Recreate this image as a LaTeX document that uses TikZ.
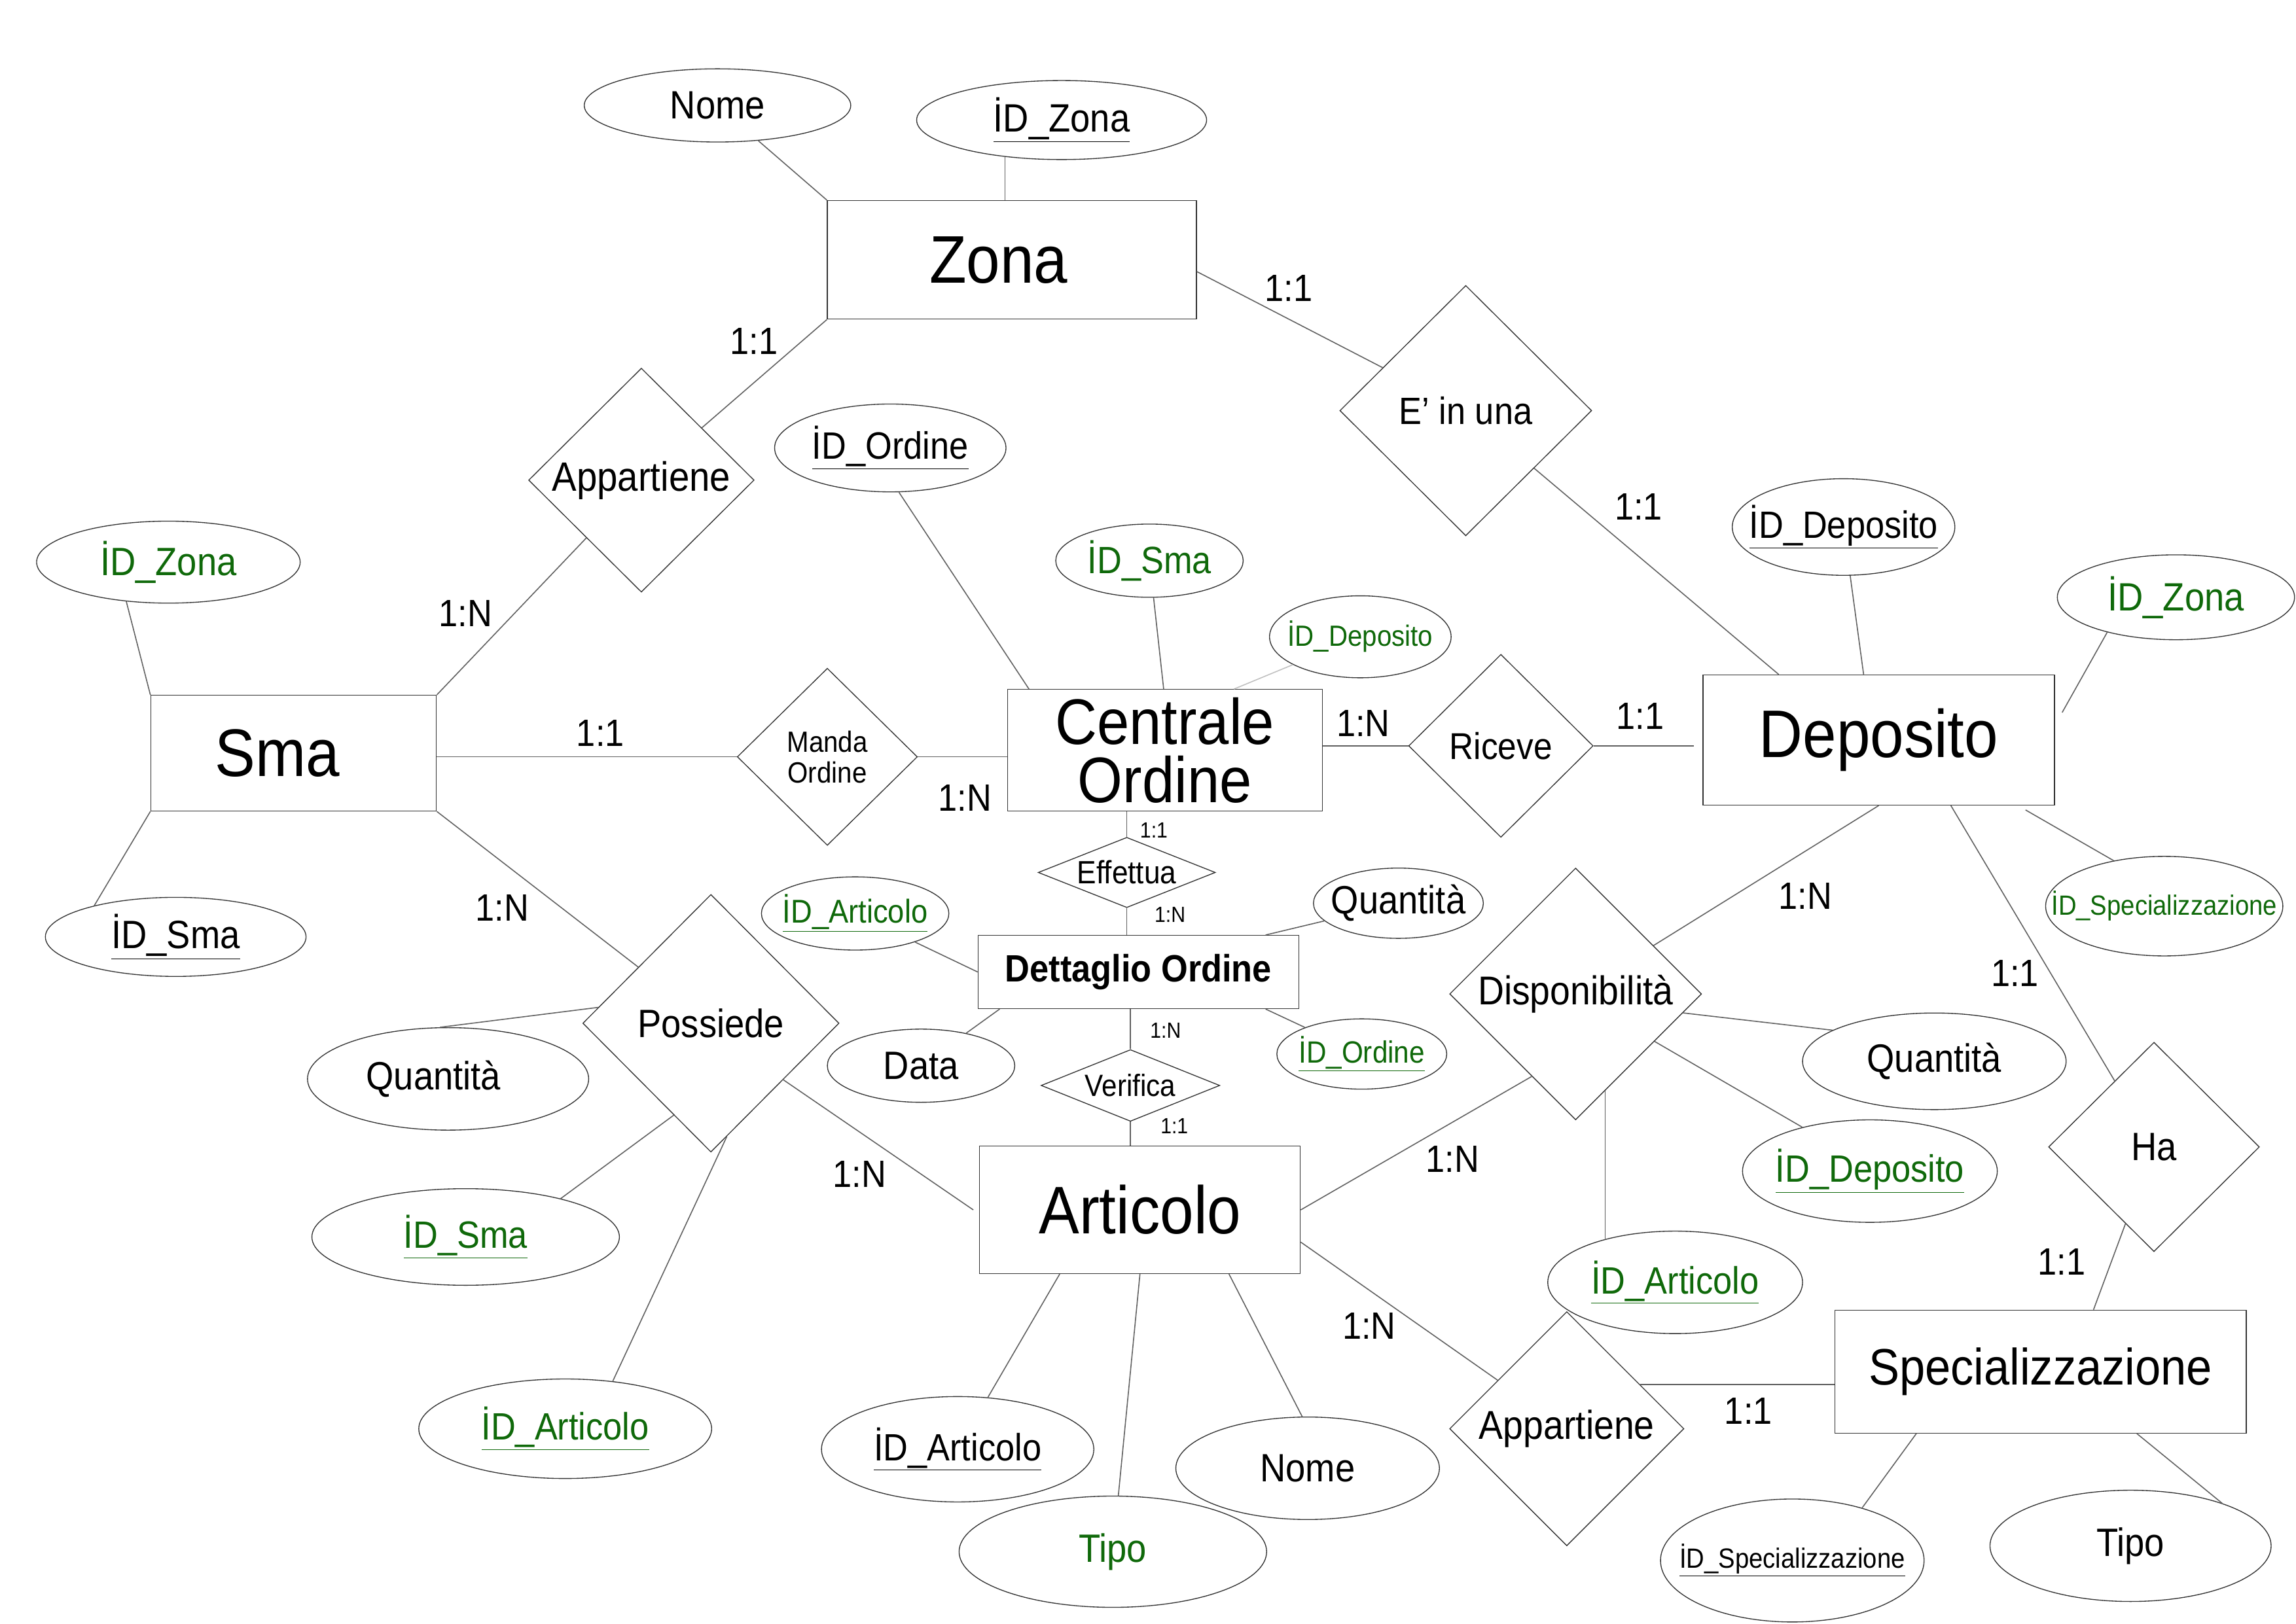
\documentclass[tikz,border=0pt]{standalone}
\usepackage{fontspec}
\setmainfont{Liberation Sans}[FakeStretch=0.9]
\usetikzlibrary{shapes.geometric}
\definecolor{ergreen}{RGB}{15,105,10}
\definecolor{lnc}{RGB}{95,95,95}
\newcommand{\zb}[1]{\makebox[0pt]{#1}}
\newcommand{\fs}[1]{\fontsize{#1}{#1}\selectfont}
\begin{document}
\begin{tikzpicture}[x=1pt,y=1pt,
  ent/.style={rectangle, draw=black!80, line width=0.6pt, inner sep=0pt, font=\fs{46}},
  rel/.style={diamond, draw=black!80, line width=0.6pt, inner sep=0pt, font=\fs{27}},
  att/.style={ellipse, draw=black!80, line width=0.6pt, inner sep=0pt, font=\fs{27}},
  con/.style={draw=lnc, line width=0.7pt},
  card/.style={inner sep=0pt, font=\fs{26}},
  cards/.style={inner sep=0pt, font=\fs{15}},
  gr/.style={text=ergreen}]
\path[fill=white,use as bounding box] (0,0) rectangle (1568,-1109);

% entities
\node[ent, minimum width=252, minimum height=81] (zona) at (691,-177.5) {Zona\hspace*{18pt}};
\node[ent, minimum width=195, minimum height=79] (sma) at (200.5,-514.5) {Sma\hspace*{22pt}};
\node[ent, minimum width=215, minimum height=83, align=center, font=\fontsize{44}{40}\selectfont] (centrale) at (795.5,-512.5) {Centrale\\Ordine};
\node[ent, minimum width=240, minimum height=89] (deposito) at (1283,-505.5) {Deposito};
\node[ent, minimum width=219, minimum height=50, font=\fs{26}\bfseries] (dettaglio) at (777.5,-664) {Dettaglio Ordine};
\node[ent, minimum width=219, minimum height=87] (articolo) at (778.5,-826.5) {Articolo};
\node[ent, minimum width=281, minimum height=84, font=\fs{35}] (spec) at (1393.5,-937) {Specializzazione};

% relationships
\node[rel, minimum width=154, minimum height=153, font=\fs{28}] (appA) at (438,-328) {\zb{Appartiene}};
\node[rel, minimum width=172, minimum height=171, font=\fs{26}] (einuna) at (1001,-280.5) {\zb{E’ in una}};
\node[rel, minimum width=123, minimum height=121, align=center, font=\fontsize{20}{21}\selectfont] (manda) at (565,-517) {Manda\\Ordine};
\node[rel, minimum width=126, minimum height=125, font=\fs{25.5}] (riceve) at (1025,-509.5) {\zb{Riceve}};
\node[rel, minimum width=121, minimum height=48, font=\fs{22}] (effettua) at (769.5,-596) {\zb{Effettua}};
\node[rel, minimum width=122, minimum height=49, font=\fs{21}] (verifica) at (772,-741.5) {\zb{Verifica}};
\node[rel, minimum width=175, minimum height=176] (possiede) at (485.5,-699) {\zb{Possiede}};
\node[rel, minimum width=172, minimum height=172, font=\fs{27.5}] (dispon) at (1076,-679) {\zb{Disponibilità}};
\node[rel, minimum width=144, minimum height=143] (ha) at (1471,-783.5) {\zb{Ha}};
\node[rel, minimum width=160, minimum height=160, font=\fs{27.5}] (appB) at (1070,-976) {\zb{Appartiene}};

% attributes
\node[att, minimum width=182, minimum height=50] (znome) at (490,-72) {\zb{Nome}};
\node[att, minimum width=198, minimum height=54] (zid) at (725,-82) {\zb{\underline{İD\_Zona}}};
\node[att, gr, minimum width=180, minimum height=56] (szona) at (115,-384) {\zb{İD\_Zona}};
\node[att, minimum width=178, minimum height=54] (sid) at (120,-640) {\zb{\underline{İD\_Sma}}};
\node[att, minimum width=158, minimum height=60, font=\fs{26}] (oid) at (608,-306) {\zb{\underline{İD\_Ordine}}};
\node[att, gr, minimum width=128, minimum height=50, font=\fs{26}] (osma) at (785,-383) {\zb{İD\_Sma}};
\node[att, gr, minimum width=124, minimum height=56, font=\fs{20}] (odep) at (929,-435) {\zb{İD\_Deposito}};
\node[att, minimum width=152, minimum height=66, font=\fs{26}] (did) at (1259,-360) {\zb{\underline{İD\_Deposito}}};
\node[att, gr, minimum width=162, minimum height=58] (dzona) at (1486,-408) {\zb{İD\_Zona}};
\node[att, gr, minimum width=162, minimum height=68, font=\fs{19}] (dspec) at (1478,-619) {\zb{İD\_Specializzazione}};
\node[att, gr, minimum width=128, minimum height=50, font=\fs{22.5}] (dtart) at (584,-624) {\zb{\underline{İD\_Articolo}}};
\node[att, minimum width=116, minimum height=48] (dtqta) at (955,-617) {\zb{Quantità}};
\node[att, minimum width=128, minimum height=50] (dtdata) at (629,-728) {\zb{Data}};
\node[att, gr, minimum width=116, minimum height=48, font=\fs{21}] (dtord) at (930,-720) {\zb{\underline{İD\_Ordine}}};
\node[att, minimum width=192, minimum height=70] (pqta) at (306,-737) {\zb{Quantità\hspace*{20pt}}};
\node[att, gr, minimum width=210, minimum height=66, font=\fs{26}] (psma) at (318,-845) {\zb{\underline{İD\_Sma}}};
\node[att, gr, minimum width=200, minimum height=68, font=\fs{26}] (part) at (386,-976) {\zb{\underline{İD\_Articolo}}};
\node[att, minimum width=186, minimum height=72, font=\fs{26}] (aid) at (654,-990) {\zb{\underline{İD\_Articolo}}};
\node[att, gr, minimum width=210, minimum height=76] (atipo) at (760,-1060) {\zb{Tipo}};
\node[att, minimum width=180, minimum height=70] (anome) at (893,-1003) {\zb{Nome}};
\node[att, minimum width=180, minimum height=66] (dqta) at (1321,-725) {\zb{Quantità}};
\node[att, gr, minimum width=174, minimum height=70, font=\fs{26}] (ddep) at (1277,-800) {\zb{\underline{İD\_Deposito}}};
\node[att, gr, minimum width=174, minimum height=70, font=\fs{26}] (dart) at (1144,-876) {\zb{\underline{İD\_Articolo}}};
\node[att, minimum width=180, minimum height=84, font=\fs{19}] (sid2) at (1224,-1066) {\zb{\underline{İD\_Specializzazione}}};
\node[att, minimum width=192, minimum height=76] (stipo) at (1455,-1056) {\zb{Tipo}};

% connectors
\draw[con] (znome) -- (zona.north west);
\draw[con] (zid.-147) -- (zid.-147 |- zona.north);
\draw[con] (zona.south west) -- (appA);
\draw[con] (appA) -- (sma.north east);
\draw[con] ([yshift=-8]zona.east) -- (einuna);
\draw[con] (einuna) -- ([xshift=52]deposito.north west);
\draw[con] (szona.-137) -- (sma.north west);
\draw[con] (sma.south west) -- (sid.159);
\draw[con] (sma.east |- manda.west) -- (manda.west);
\draw[con] (manda.east) -- (manda.east -| centrale.west);
\draw[con] (oid.-79) -- ([xshift=15]centrale.north west);
\draw[con] (osma) -- ([xshift=107]centrale.north west);
\draw[con, draw=black!25] (odep) -- ([xshift=155]centrale.north west);
\draw[con] (centrale.east |- riceve.west) -- (riceve.west);
\draw[con, shorten >=6pt] (riceve.east) -- (riceve.east -| deposito.west);
\draw[con] (did) -- ([xshift=110]deposito.north west);
\draw[con] (dzona.-153) -- ([xshift=5,yshift=-26]deposito.north east);
\draw[con] ([xshift=-20,yshift=-3]deposito.south east) -- (dspec.138);
\draw[con] ([xshift=-71]deposito.south east) -- (ha);
\draw[con] (ha) -- ([xshift=177]spec.north west);
\draw[con] (deposito.south) -- (dispon);
\draw[con] (effettua.north |- centrale.south) -- (effettua.north);
\draw[con] (effettua.south) -- (effettua.south |- dettaglio.north);
\draw[con] (verifica.north |- dettaglio.south) -- (verifica.north);
\draw[con] (verifica.south) -- (verifica.south |- articolo.north);
\draw[con] (dtart) -- (dettaglio.west);
\draw[con] (dtqta) -- ([xshift=-23]dettaglio.north east);
\draw[con] ([xshift=15]dettaglio.south west) -- (dtdata);
\draw[con] ([xshift=-23]dettaglio.south east) -- (dtord);
\draw[con] (sma.south east) -- (possiede);
\draw[con] (possiede.172) -- (pqta.99);
\draw[con] (possiede.-112) -- (psma.22);
\draw[con] (possiede.-82) -- (part.45);
\draw[con] (possiede.-38) -- ([xshift=-4]articolo.west);
\draw[con] (articolo.east) -- (dispon.-118);
\draw[con] (dispon.-10) -- (dqta.163);
\draw[con] (dispon.-31) -- (ddep.147);
\draw[con] (dispon.-73) -- (dispon.-73 |- dart.150);
\draw[con] ([yshift=-22]articolo.east) -- (appB);
\draw[con] (appB.31) -- (appB.31 -| spec.west);
\draw[con] ([xshift=55]articolo.south west) -- (aid);
\draw[con] (articolo.south) -- (atipo);
\draw[con] ([xshift=-49]articolo.south east) -- (anome.96);
\draw[con] ([xshift=56]spec.south west) -- (sid2.37);
\draw[con] ([xshift=-75]spec.south east) -- (stipo.25);

% cardinalities
\node[card] (c1) at (515,-233) {1:1};
\node[card] (c2) at (318,-419) {1:N};
\node[card] (c3) at (880,-197) {1:1};
\node[card] (c4) at (1119,-346) {1:1};
\node[card] (c5) at (410,-501) {1:1};
\node[card] (c6) at (659,-545) {1:N};
\node[card] (c7) at (931,-494) {1:N};
\node[card] (c8) at (1120,-489) {1:1};
\node[card] (c9) at (343,-620) {1:N};
\node[card] (c10) at (587,-802) {1:N};
\node[card] (c11) at (1233,-612) {1:N};
\node[card] (c12) at (1376,-665) {1:1};
\node[card] (c13) at (1408,-862) {1:1};
\node[card] (c14) at (992,-792) {1:N};
\node[card] (c15) at (935,-906) {1:N};
\node[card] (c16) at (1194,-964) {1:1};
\node[cards] (c17) at (788,-567) {1:1};
\node[cards] (c18) at (799,-625) {1:N};
\node[cards] (c19) at (796,-704) {1:N};
\node[cards] (c20) at (802,-769) {1:1};
\end{tikzpicture}
\end{document}
